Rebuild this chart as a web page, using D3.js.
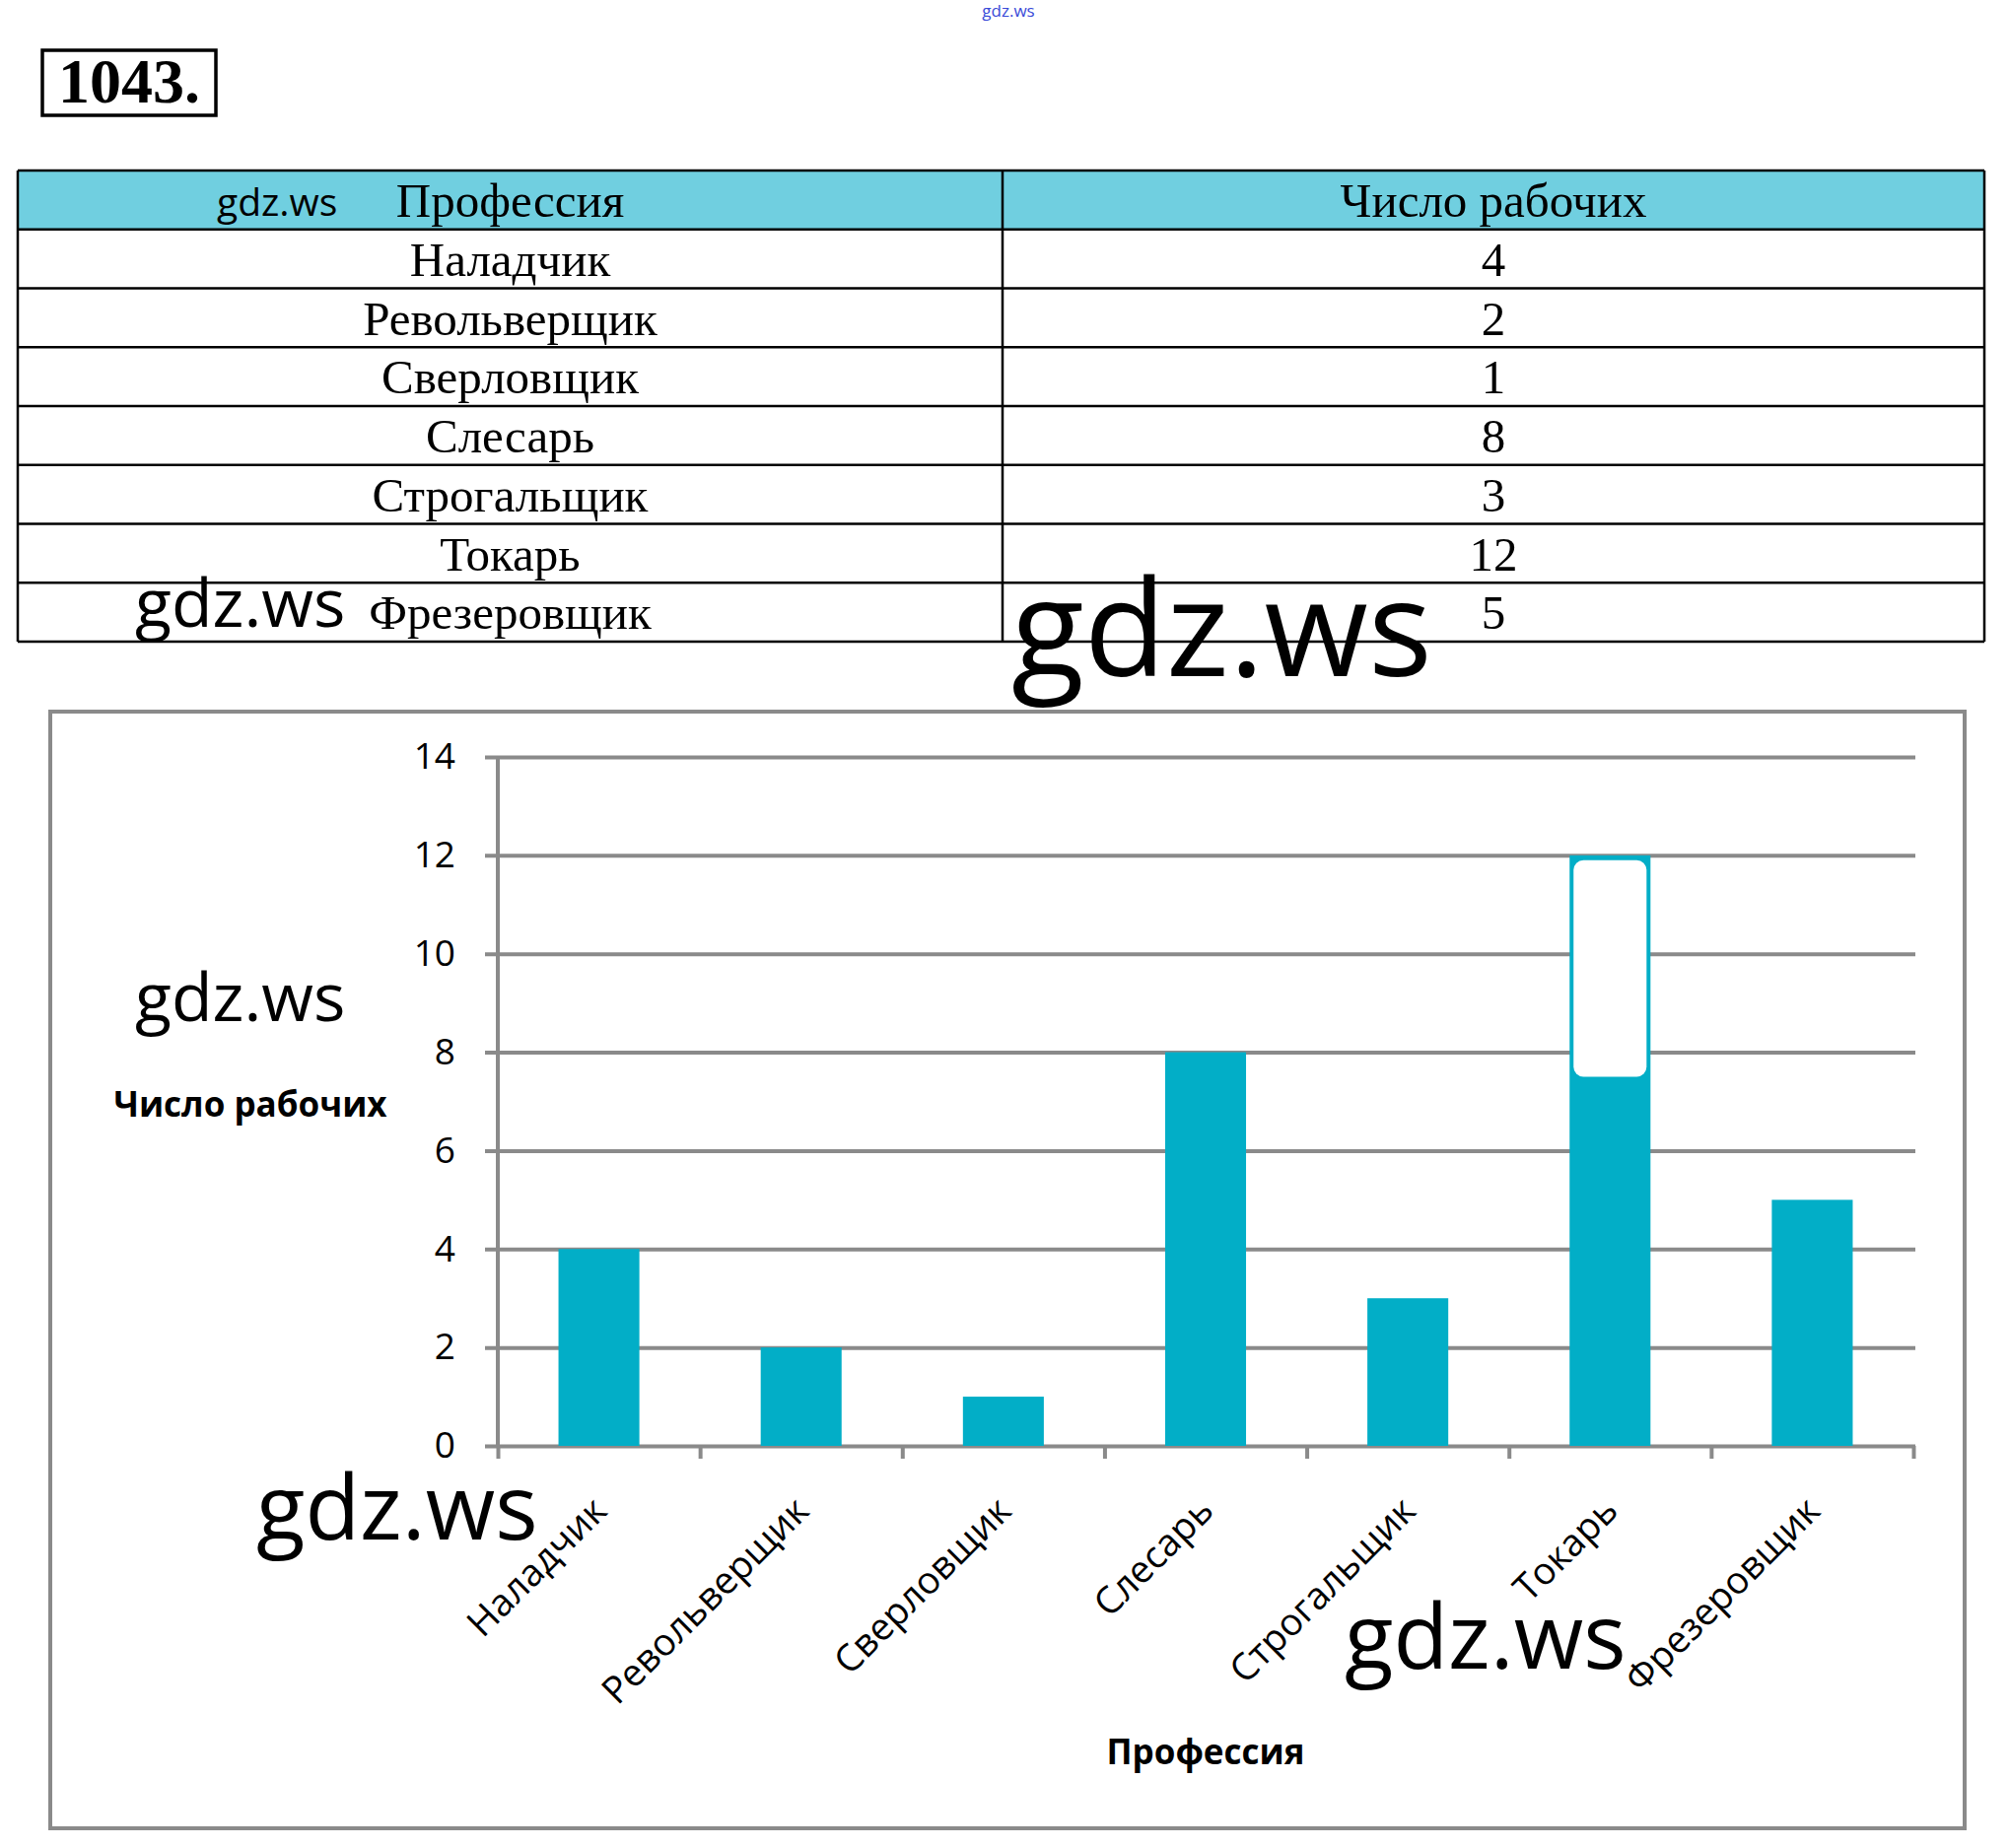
<!DOCTYPE html>
<html>
<head>
<meta charset="utf-8">
<script src="https://cdn.jsdelivr.net/npm/d3@7"></script>
<style>
  body { margin: 0; background: #fff; }
  svg { display: block; }
</style>
</head>
<body>
<script>
  "use strict";

  // data
  var professions = ["Наладчик", "Револьверщик", "Сверловщик", "Слесарь", "Строгальщик", "Токарь", "Фрезеровщик"];
  var workers = [4, 2, 1, 8, 3, 12, 5];
  var yTicks = [0, 2, 4, 6, 8, 10, 12, 14];
  var headers = ["Профессия", "Число рабочих"];
  var taskNumber = "1043.";
  var watermark = "gdz.ws";

  var W = 2038, H = 1875,
    barColor = "#02aec7",
    gridColor = "#8a8a8a",
    sans = "'Open Sans', sans-serif",
    serif = "'Liberation Serif', 'DejaVu Serif', serif";

  var svg = d3.select("body").append("svg")
    .attr("width", W)
    .attr("height", H);

  // task number box
  svg.append("rect")
    .attr("x", 43).attr("y", 51).attr("width", 176).attr("height", 66)
    .attr("fill", "none").attr("stroke", "#000").attr("stroke-width", 3.5);
  svg.append("text")
    .attr("x", 131).attr("y", 104)
    .attr("text-anchor", "middle")
    .style("font-family", serif).style("font-weight", "bold").style("font-size", "64px")
    .text(taskNumber);

  // table
  var colX = [18, 1017, 2013],
    rowY = d3.scaleLinear().domain([0, professions.length + 1]).range([173, 651]);

  svg.append("rect")
    .attr("x", colX[0]).attr("y", rowY(0))
    .attr("width", colX[2] - colX[0]).attr("height", rowY(1) - rowY(0))
    .attr("fill", "#70cfe0");

  var table = svg.append("g").attr("class", "table");

  table.selectAll("line.row")
    .data(d3.range(professions.length + 2))
    .enter().append("line")
    .attr("x1", colX[0]).attr("x2", colX[2])
    .attr("y1", rowY).attr("y2", rowY)
    .attr("stroke", "#000").attr("stroke-width", 2.5);

  table.selectAll("line.col")
    .data(colX)
    .enter().append("line")
    .attr("x1", function(d) { return d; }).attr("x2", function(d) { return d; })
    .attr("y1", rowY(0)).attr("y2", rowY(professions.length + 1))
    .attr("stroke", "#000").attr("stroke-width", 2.5);

  var rows = [headers].concat(professions.map(function(p, i) { return [p, String(workers[i])]; }));

  rows.forEach(function(r, i) {
    r.forEach(function(cell, j) {
      table.append("text")
        .attr("x", (colX[j] + colX[j + 1]) / 2)
        .attr("y", rowY(i) + 47)
        .attr("text-anchor", "middle")
        .style("font-family", serif).style("font-size", "49px")
        .text(cell);
    });
  });

  // chart frame
  svg.append("rect")
    .attr("x", 51).attr("y", 722).attr("width", 1942).attr("height", 1133)
    .attr("fill", "#fff").attr("stroke", gridColor).attr("stroke-width", 4);

  // scales
  var plotLeft = 505, plotRight = 1941, plotTop = 768, plotBottom = 1467;

  var x = d3.scaleBand()
    .domain(professions)
    .range([plotLeft, plotRight])
    .paddingInner(0.6)
    .paddingOuter(0.3);

  var xb = d3.scaleLinear().domain([0, professions.length]).range([plotLeft, plotRight]);

  var y = d3.scaleLinear().domain([0, 14]).range([plotBottom, plotTop]);

  // gridlines + y labels
  var yAxis = svg.append("g")
    .attr("transform", "translate(492,0)")
    .call(d3.axisLeft(y).tickValues(yTicks).tickSize(-(plotRight + 2 - 492)).tickPadding(30));
  yAxis.select(".domain").remove();
  yAxis.selectAll(".tick line").attr("stroke", gridColor).attr("stroke-width", 4);
  yAxis.selectAll(".tick text")
    .attr("fill", "#000")
    .style("font-family", sans).style("font-size", "37px");

  // bars
  svg.selectAll("rect.bar")
    .data(workers)
    .enter().append("rect")
    .attr("class", "bar")
    .attr("x", function(d, i) { return x(professions[i]); })
    .attr("y", function(d) { return y(d); })
    .attr("width", x.bandwidth())
    .attr("height", function(d) { return y(0) - y(d); })
    .attr("fill", barColor);

  // white correction patch on the tallest bar (as in the scan)
  var maxI = workers.indexOf(d3.max(workers));
  svg.append("rect")
    .attr("x", x(professions[maxI]) + 4)
    .attr("y", y(workers[maxI]) + 5)
    .attr("width", x.bandwidth() - 8)
    .attr("height", y(7.5) - y(workers[maxI]) - 5)
    .attr("rx", 10)
    .attr("fill", "#fff");

  // y axis line
  svg.append("line")
    .attr("x1", plotLeft).attr("x2", plotLeft)
    .attr("y1", plotTop).attr("y2", plotBottom)
    .attr("stroke", gridColor).attr("stroke-width", 4);

  // x axis ticks at category boundaries
  var xAxis = svg.append("g")
    .attr("transform", "translate(0," + plotBottom + ")")
    .call(d3.axisBottom(xb).tickValues(d3.range(professions.length + 1)).tickFormat("").tickSize(13).tickSizeOuter(0));
  xAxis.select(".domain").remove();
  xAxis.selectAll(".tick line").attr("stroke", gridColor).attr("stroke-width", 4);

  // rotated category labels
  svg.selectAll("text.cat")
    .data(professions)
    .enter().append("text")
    .attr("class", "cat")
    .attr("transform", function(d) {
      return "translate(" + (x(d) + x.bandwidth() / 2 + 10) + "," + (plotBottom + 68) + ") rotate(-45)";
    })
    .attr("text-anchor", "end")
    .style("font-family", sans).style("font-size", "38px")
    .text(function(d) { return d; });

  // axis titles
  svg.append("text")
    .attr("x", 254).attr("y", 1133)
    .attr("text-anchor", "middle")
    .style("font-family", sans).style("font-weight", "bold").style("font-size", "35px")
    .text(headers[1]);

  svg.append("text")
    .attr("x", (plotLeft + plotRight) / 2).attr("y", 1790)
    .attr("text-anchor", "middle")
    .style("font-family", sans).style("font-weight", "bold").style("font-size", "35px")
    .text(headers[0]);

  // watermarks from the scan
  var marks = [
    { x: 1023, y: 17, size: 17, fill: "#3a4bd8" },
    { x: 220, y: 219, size: 39, fill: "#000" },
    { x: 137, y: 636, size: 68, fill: "#000" },
    { x: 1026, y: 686, size: 136, fill: "#000" },
    { x: 137, y: 1036, size: 68, fill: "#000" },
    { x: 260, y: 1562, size: 91, fill: "#000" },
    { x: 1364, y: 1693, size: 91, fill: "#000" }
  ];
  svg.selectAll("text.wm")
    .data(marks)
    .enter().append("text")
    .attr("class", "wm")
    .attr("x", function(d) { return d.x; })
    .attr("y", function(d) { return d.y; })
    .attr("text-anchor", function(d, i) { return i === 0 ? "middle" : "start"; })
    .attr("fill", function(d) { return d.fill; })
    .style("font-family", sans)
    .style("font-size", function(d) { return d.size + "px"; })
    .text(watermark);
</script>
</body>
</html>
